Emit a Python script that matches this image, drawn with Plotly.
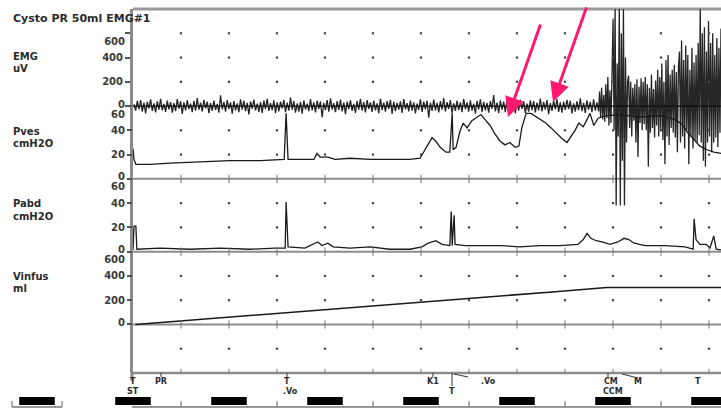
import numpy as np
import plotly.graph_objects as go

# ---------------- data ----------------
title_text = "Cysto PR 50ml EMG#1"
channel_names = ["EMG", "Pves", "Pabd", "Vinfus"]
channel_units = ["uV", "cmH2O", "cmH2O", "ml"]

emg_ticks = [0, 200, 400, 600]
pves_ticks = [0, 20, 40, 60]
pabd_ticks = [0, 20, 40, 60]
vinfus_ticks = [0, 200, 400, 600]

# EMG (uV): baseline activity, then the burst during voiding
emg_noise = [
    15, -38, 42, -25, 50, -45, 28, -60, 35, -20, 55, -40, 22, -52, 38, -30, 60, -35, 18, -48,
    45, -28, 33, -55, 25, -42, 58, -22, 40, -65, 30, -35, 48, -25, 20, -50, 42, -38, 65, -30,
    28, -45, 52, -20, 36, -58, 24, -40, 46, -32, 18, -55, 88, -28, 34, -46, 50, -24, 30, -62,
    40, -35, 22, -50, 56, -30, 44, -42, 26, -68, 38, -22, 54, -36, 20, -48, 32, -56, 46, -26,
    60, -40, 24, -34, 48, -58, 30, -44, 36, -20, 52, -50, 28, -38, 70, -30, 42, -54, 22, -46,
    34, -62, 46, -28, 20, -42, 58, -36, 30, -52, 44, -24, 38, -92, 26, -34, 50, -46, 64, -28,
    24, -50, 40, -32, 54, -44, 28, -66, 36, -26, 48, -40, 18, -56, 42, -30, 60, -38, 32, -52,
    50, -24, 30, -48, 44, -36, 22, -58, 62, -34, 28, -46, 40, -22, 52, -64, 34, -42, 26, -30,
    38, -56, 58, -26, 24, -44, 46, -38, 30, -60, 20, -32, 56, -48, 36, -28, 44, -95, 28, -40,
    54, -36, 26, -52, 40, -30, 66, -44, 32, -24, 50, -58, 22, -40, 46, -34, 30, -50, 60, -26,
    30, -46, 48, -38, 20, -62, 42, -28, 56, -48, 34, -36, 26, -54, 40, -22, 90, -44, 28, -58,
    46, -30, 36, -50, 58, -26, 24, -42, 44, -60, 30, -38, 52, -24, 38, -56, 20, -46, 48, -34,
    40, -52, 28, -36, 62, -44, 34, -30, 50, -66, 24, -40, 46, -28, 58, -48, 30, -54, 36, -32,
    52, -26, 44, -60, 22, -46, 38, -34, 64, -42, 26, -56, 48, -30, 34, -50, 56, -38, 30, -44,
]
emg_burst = [
    120, -90, 150, -110, 90, -130, 180, -100, 240, -160, 130, -140, 260,
    720, -200, 820, -820, 350, -250, 820, -820, 600, -450, 820, -820, 400, -300, 200,
    250, -180, 200, -250, 150, -120, 180, -300, 220, -420, 160, -140, 230, -200,
    200, -150, 240, -200, 180, -500, 150, -220, 260, -180, 140, -260, 210, -160,
    300, -250, 240, -200, 350, -280, 200, -480, 380, -250, 420, -320, 260, -180, 300,
    -220, 340, -260, 280, -380, 320,
    450, -300, 540, -250, 380, -350, 500, -200, 420, -480, 300, -250, 480, -350,
    360, -280, 420, -300, 520, -240,
    820, -300, 600, -450, 650, -500, 450, -300, 700, -250, 520, -380, 600, -300, 420,
    -260, 560, -340, 480, -220, 640,
]
emg_noise_span = [0.02, 9.70]   # minutes
emg_burst_span = [9.72, 12.25]

# Pves (cmH2O)
pves_t = [0.00, 0.02, 0.06, 0.35, 0.77, 1.40, 2.02, 2.65, 3.15, 3.19, 3.23, 3.48, 3.77, 3.83,
          3.90, 4.06, 4.21, 4.52, 4.94, 5.35, 5.77, 5.98, 6.08, 6.17, 6.23, 6.31, 6.40, 6.52,
          6.60, 6.65, 6.67, 6.73, 6.81, 6.88, 6.96, 7.06, 7.17, 7.25, 7.33, 7.44, 7.54, 7.65,
          7.75, 7.85, 7.96, 8.04, 8.10, 8.19, 8.29, 8.40, 8.50, 8.60, 8.71, 8.83, 8.94, 9.04,
          9.13, 9.21, 9.29, 9.38, 9.46, 9.52, 9.60, 9.69, 9.83, 10.15, 10.56, 10.98, 11.29,
          11.44, 11.56, 11.69, 11.81, 11.96, 12.10, 12.25]
pves_v = [25, 16, 12, 12, 13, 14, 15, 15, 16, 54, 16, 16, 16, 21,
          18, 18, 16, 17, 16, 16, 16, 17, 24, 30, 34, 31, 26, 22,
          22, 54, 24, 26, 39, 46, 42, 48, 51, 53, 49, 44, 37, 31,
          28, 30, 26, 27, 42, 54, 54, 51, 49, 46, 42, 37, 33, 30,
          35, 40, 46, 43, 49, 54, 44, 50, 52, 53, 51, 52, 49,
          45, 38, 32, 27, 24, 22, 21]

# Pabd (cmH2O)
pabd_t = [0.00, 0.02, 0.06, 0.08, 0.56, 1.19, 1.81, 2.44, 2.96, 3.17, 3.19, 3.23, 3.58, 3.85,
          3.94, 4.06, 4.17, 4.52, 4.94, 5.35, 5.77, 6.02, 6.15, 6.31, 6.44, 6.60, 6.63, 6.65,
          6.69, 6.71, 6.92, 7.23, 7.65, 8.06, 8.48, 8.90, 9.27, 9.38, 9.46, 9.54, 9.65, 9.77,
          9.94, 10.10, 10.23, 10.33, 10.44, 10.67, 11.08, 11.50, 11.67, 11.69, 11.73, 11.81,
          11.94, 12.02, 12.10, 12.15, 12.25]
pabd_v = [1.5, 21, 21, 2, 3, 2, 3, 2, 3, 3, 41, 4, 3, 8,
          5, 7, 4, 3, 4, 2, 2, 4, 7, 9, 6, 5, 33, 5,
          30, 6, 5, 5, 5, 4, 5, 5, 6, 10, 15, 11, 9, 8,
          6, 8, 11, 10, 7, 5, 5, 4, 2, 27, 10, 6,
          6, 3, 13, 2, 1.5]

# Vinfus (ml)
vinfus_t = [0.05, 2.2, 4.4, 6.6, 8.8, 9.87, 12.25]
vinfus_v = [0, 65, 135, 200, 270, 305, 305]

# time markers along the bottom
bar_times = [-2, 0, 2, 4, 6, 8, 10, 12]
minute_tick_times = [1, 3, 5, 7, 9, 11]
event_times = [0.0, 0.0, 0.58, 3.2, 3.29, 6.25, 6.65, 7.4, 9.96, 10.0, 10.52, 11.77]
event_texts = ["T", "ST", "PR", "T", ".Vo", "K1", "T", ".Vo", "CM", "CCM", "M", "T"]
event_lines = [0, 1, 0, 0, 1, 0, 1, 0, 0, 1, 0, 0]

# ---------------- layout geometry ----------------
W, H = 721, 409
L, T, B = 133, 9, 36
PW, PH = W - L, H - T - B          # 588 x 364
DIV = 48.0                          # px per minute division
NROWS = 15
X_MAX = PW / DIV


def fy(py):            # pixel y -> paper fraction
    return (T + PH - py) / PH


def fx(px):            # pixel x -> paper fraction
    return (px - L) / PW


def tx(px):            # pixel x -> time
    return (px - L) / DIV


TXT = "#2b2b2b"
FONT = "DejaVu Sans"

fig = go.Figure()

# panels: (zero row, top row, top value, ticks)
panels = [(4, 1, 600, emg_ticks), (7, 4, 60, pves_ticks),
          (10, 7, 60, pabd_ticks), (13, 10, 600, vinfus_ticks)]
ranges = []
for kz, kt, top, ticks in panels:
    upr = top / (kz - kt)
    ranges.append([-(NROWS - kz) * upr, kz * upr])

tickfont = dict(family=FONT, size=10, color="#3a3a3a", weight="bold")
layout_axes = {}
axis_no = 1
label_axis_specs = []
for i, (kz, kt, top, ticks) in enumerate(panels):
    n = i + 1
    name = "yaxis" if n == 1 else f"yaxis{n}"
    ax = dict(domain=[0, 1], range=ranges[i], tickvals=ticks,
              ticktext=[""] + [str(v) for v in ticks[1:-1]] + [""],
              ticks="outside", ticklen=5, tickwidth=2, tickcolor="#555",
              showgrid=False, zeroline=False, tickfont=tickfont, anchor="x",
              fixedrange=True)
    if n == 1:
        ax.update(showline=True, linewidth=3, linecolor="#8a8a8a")
    else:
        ax.update(showline=False, overlaying="y")
    layout_axes[name] = ax
    # the panel-edge labels are displaced slightly, as on the chart recorder
    label_axis_specs.append((ranges[i], ticks[-1], 8))
    label_axis_specs.append((ranges[i], ticks[0], -2))

next_ax = 5
for rng, val, shift in label_axis_specs:
    layout_axes[f"yaxis{next_ax}"] = dict(
        domain=[0, 1], range=rng, tickvals=[val], ticktext=[str(val)],
        ticks="outside", ticklen=5, tickcolor="rgba(0,0,0,0)",
        ticklabelshift=shift, showline=False, showgrid=False, zeroline=False,
        tickfont=tickfont, overlaying="y", anchor="x")
    fig.add_trace(go.Scatter(x=[None], y=[None], yaxis=f"y{next_ax}", mode="lines",
                             hoverinfo="skip", showlegend=False))
    next_ax += 1
GRID_AX = next_ax
# grid axis
layout_axes[f"yaxis{GRID_AX}"] = dict(domain=[0, 1], range=[0, NROWS], visible=False,
                                      overlaying="y", anchor="x")

# dot grid
cols = list(range(1, int(X_MAX) + 1))
dot_rows = [1, 2, 3, 5, 6, 8, 9, 11, 12, 14]
gx, gy = [], []
for k in dot_rows:
    for c in cols:
        gx.append(c)
        gy.append(NROWS - k)
fig.add_trace(go.Scatter(x=gx, y=gy, yaxis=f"y{GRID_AX}", mode="markers", hoverinfo="skip",
                         marker=dict(symbol="square", size=2.2, color="#444"),
                         showlegend=False))
lx, ly = [], []
for k in [7, 10, 13, 15]:
    for c in cols:
        lx.append(c)
        ly.append(NROWS - k)
fig.add_trace(go.Scatter(x=lx, y=ly, yaxis=f"y{GRID_AX}", mode="markers", hoverinfo="skip",
                         marker=dict(symbol="line-ns", size=6,
                                     line=dict(width=1, color="#777")),
                         showlegend=False))

# traces
emg_t = list(np.linspace(emg_noise_span[0], emg_noise_span[1], len(emg_noise))) + \
    list(np.linspace(emg_burst_span[0], emg_burst_span[1], len(emg_burst)))
emg_v = emg_noise + emg_burst
fig.add_trace(go.Scatter(x=emg_t, y=emg_v, yaxis="y", mode="lines",
                         line=dict(color="#262626", width=1.3), showlegend=False))
fig.add_trace(go.Scatter(x=pves_t, y=pves_v, yaxis="y2", mode="lines",
                         line=dict(color="#1a1a1a", width=1.3), showlegend=False))
fig.add_trace(go.Scatter(x=pabd_t, y=pabd_v, yaxis="y3", mode="lines",
                         line=dict(color="#1a1a1a", width=1.3), showlegend=False))
fig.add_trace(go.Scatter(x=vinfus_t, y=vinfus_v, yaxis="y4", mode="lines",
                         line=dict(color="#1a1a1a", width=1.6), showlegend=False))

shapes = []
# borders and zero lines
shapes.append(dict(type="line", xref="paper", yref="paper", x0=0, x1=1, y0=1, y1=1,
                   line=dict(color="#9a9a9a", width=3), layer="below"))
shapes.append(dict(type="line", xref="paper", yref="paper", x0=0, x1=1, y0=0, y1=0,
                   line=dict(color="#8c8c8c", width=2.5), layer="below"))
for k in [7, 10, 13]:
    shapes.append(dict(type="line", xref="paper", yref="paper", x0=0, x1=1,
                       y0=1 - k / NROWS, y1=1 - k / NROWS,
                       line=dict(color="#8c8c8c", width=2), layer="below"))
shapes.append(dict(type="line", xref="paper", yref="paper", x0=0, x1=1,
                   y0=1 - 4 / NROWS, y1=1 - 4 / NROWS,
                   line=dict(color="#111", width=1.2), layer="above"))
# axis line continues below the frame
shapes.append(dict(type="line", xref="paper", yref="paper", x0=fx(132), x1=fx(132),
                   y0=0, y1=fy(381), line=dict(color="#8a8a8a", width=3)))
# bottom time strip
shapes.append(dict(type="line", xref="paper", yref="paper", x0=fx(132), x1=1,
                   y0=fy(407), y1=fy(407), line=dict(color="#777", width=1.5)))
shapes.append(dict(type="line", xref="paper", yref="paper", x0=fx(12), x1=fx(62),
                   y0=fy(407), y1=fy(407), line=dict(color="#777", width=1.5)))
for px in [12, 62]:
    shapes.append(dict(type="line", xref="paper", yref="paper", x0=fx(px), x1=fx(px),
                       y0=fy(401), y1=fy(407), line=dict(color="#777", width=1.2)))
for t in minute_tick_times:
    shapes.append(dict(type="line", xref="paper", yref="paper", x0=t * DIV / PW,
                       x1=t * DIV / PW, y0=fy(401), y1=fy(407),
                       line=dict(color="#777", width=1.2)))
for t in bar_times:
    shapes.append(dict(type="rect", xref="paper", yref="paper",
                       x0=(t - 0.37) * DIV / PW, x1=min((t + 0.37) * DIV / PW, 1.0),
                       y0=fy(405), y1=fy(397), fillcolor="#000", line=dict(width=0)))
# event ticks / connectors below the frame
for px in [161, 287, 433, 608]:
    shapes.append(dict(type="line", xref="paper", yref="paper", x0=fx(px), x1=fx(px),
                       y0=fy(373), y1=fy(377), line=dict(color="#333", width=1)))
shapes.append(dict(type="line", xref="paper", yref="paper", x0=fx(452), x1=fx(452),
                   y0=fy(373), y1=fy(386), line=dict(color="#333", width=1)))
shapes.append(dict(type="line", xref="paper", yref="paper", x0=fx(454), x1=fx(468),
                   y0=fy(374), y1=fy(377), line=dict(color="#333", width=1)))
shapes.append(dict(type="line", xref="paper", yref="paper", x0=fx(622), x1=fx(638),
                   y0=fy(374), y1=fy(378), line=dict(color="#333", width=1)))

annotations = []
annotations.append(dict(text=title_text, xref="paper", yref="paper", x=fx(11), y=fy(18),
                        xanchor="left", yanchor="middle", showarrow=False,
                        font=dict(family=FONT, size=11, color=TXT, weight="bold")))
name_rows = [(57, 68), (131, 143), (203, 216), (276, 288)]
for (y1, y2), nm, un in zip(name_rows, channel_names, channel_units):
    annotations.append(dict(text=nm, xref="paper", yref="paper", x=fx(11), y=fy(y1),
                            xanchor="left", yanchor="middle", showarrow=False,
                            font=dict(family=FONT, size=10, color=TXT, weight="bold")))
    annotations.append(dict(text=un, xref="paper", yref="paper", x=fx(11), y=fy(y2),
                            xanchor="left", yanchor="middle", showarrow=False,
                            font=dict(family=FONT, size=10, color=TXT, weight="bold")))
for t, s, ln in zip(event_times, event_texts, event_lines):
    annotations.append(dict(text=s, xref="x", yref="paper", x=t, y=fy(382 + 9 * ln),
                            xanchor="center", yanchor="middle", showarrow=False,
                            font=dict(family=FONT, size=8, color=TXT, weight="bold")))
# pink arrows
for tip, tail in [((508, 117), (541, 23)), ((553, 102), (587, 6))]:
    annotations.append(dict(text="", xref="x", yref="paper", x=tx(tip[0]), y=fy(tip[1]),
                            ax=tail[0] - tip[0], ay=tail[1] - tip[1], showarrow=True,
                            arrowhead=2, arrowsize=1.3, arrowwidth=3,
                            arrowcolor="#ff1a70"))

fig.update_layout(
    width=W, height=H, margin=dict(l=L, r=0, t=T, b=B, pad=0),
    paper_bgcolor="white", plot_bgcolor="white", showlegend=False,
    xaxis=dict(range=[0, X_MAX], visible=False, fixedrange=True),
    shapes=shapes, annotations=annotations,
    **layout_axes,
)

fig.write_html("out.html")
